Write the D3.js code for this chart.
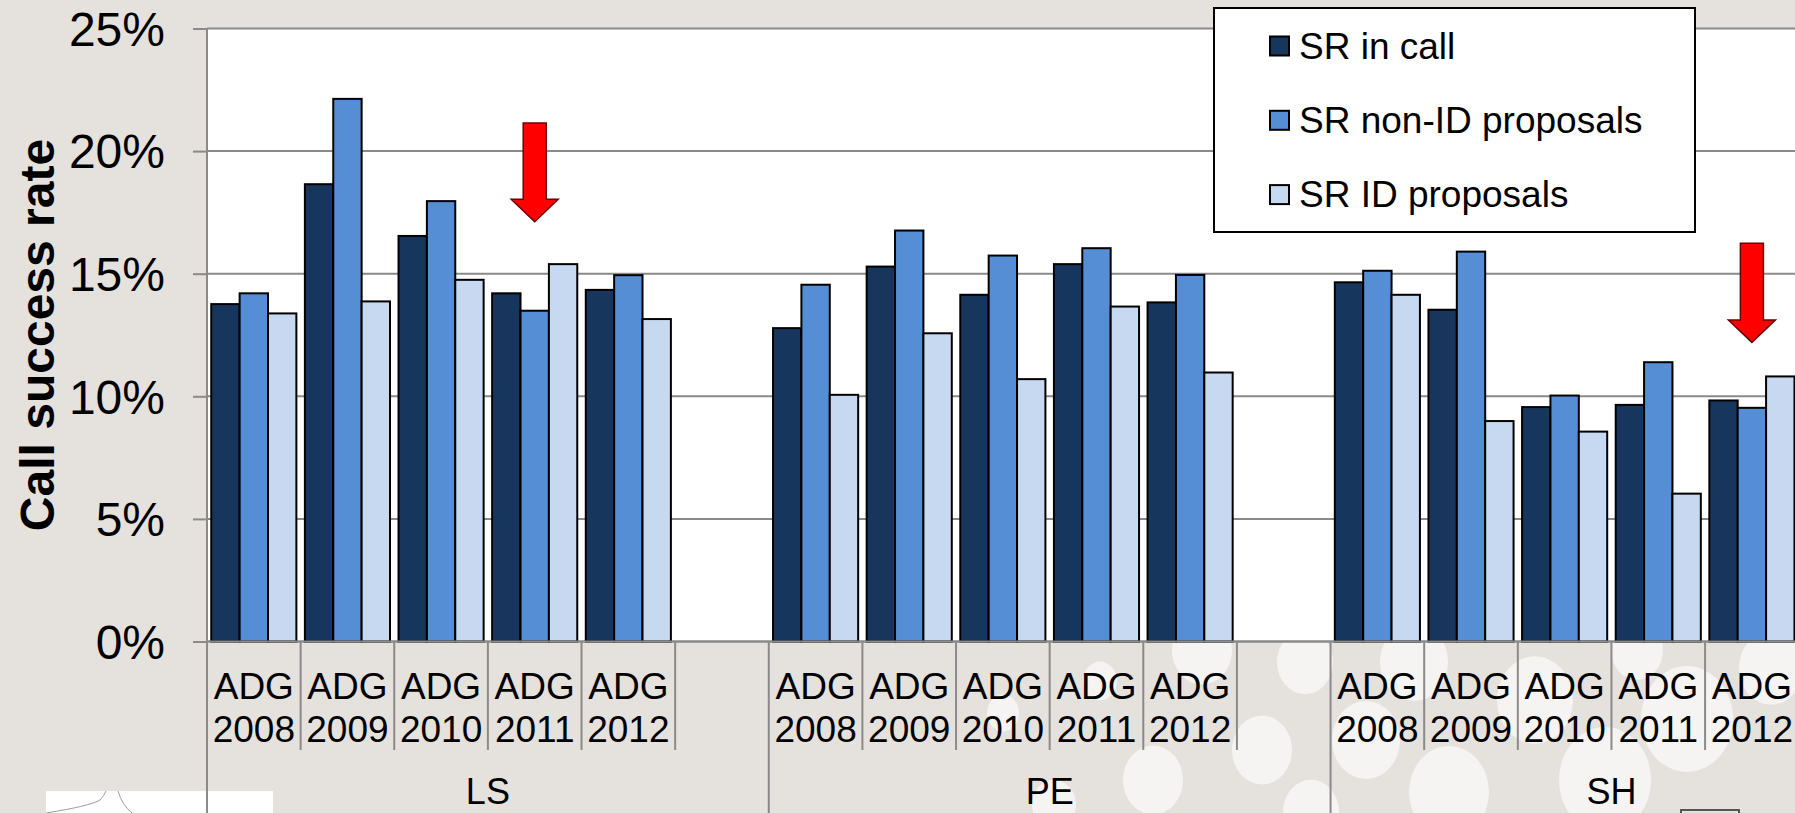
<!DOCTYPE html>
<html><head><meta charset="utf-8">
<script src="https://cdn.jsdelivr.net/npm/d3@7"></script>
<style>
html,body{margin:0;padding:0;background:#E5E1DD;overflow:hidden}
svg{display:block;font-family:"Liberation Sans",Arial,sans-serif}
</style></head><body>
<svg id="chart" width="1795" height="813"></svg>
<script>
// ---- data ----
const groups = ["LS", "PE", "SH"];
const years = ["ADG 2008", "ADG 2009", "ADG 2010", "ADG 2011", "ADG 2012"];
const series = ["SR in call", "SR non-ID proposals", "SR ID proposals"];
// values in %, order: LS 2008..2012, PE 2008..2012, SH 2008..2012
const srInCall = [13.76, 18.65, 16.54, 14.20, 14.34, 12.78, 15.29, 14.14, 15.39, 13.83, 14.65, 13.53, 9.56, 9.65, 9.83];
const srNonID  = [14.20, 22.13, 17.96, 13.49, 14.94, 14.55, 16.76, 15.74, 16.04, 14.95, 15.12, 15.90, 10.03, 11.39, 9.53];
const srID     = [13.38, 13.87, 14.75, 15.39, 13.15, 10.06, 12.57, 10.70, 13.66, 10.97, 14.14, 8.99, 8.56, 6.03, 10.81];
const yTicks = [0, 5, 10, 15, 20, 25];
const yTitle = "Call success rate";
const arrowGroups = ["LS", "SH"];
const arrowYears = ["ADG 2011", "ADG 2012"];
const arrowFrom = [21.15, 16.24];
const arrowTo = [17.12, 12.20];

// ---- styles ----
const colors = ["#17365D", "#558ED5", "#C6D9F1"];
const W = 1795, H = 813;
const svg = d3.select("#chart");

// background decoration
svg.append("rect").attr("width", W).attr("height", H).attr("fill", "#E5E1DD");
const decor = [[1100,681,17],[1003,713,16],[1153,780,30],[1262,750,30],[1202,650,30],[1305,662,28],[1054,805,22],
  [1366,740,34],[1449,792,40],[1414,662,34],[1535,700,38],[1605,780,46],[1687,719,46],[1771,668,32],[1311,812,28],[1637,650,26]];
svg.append("g").selectAll("ellipse").data(decor).join("ellipse")
  .attr("cx", d => d[0]).attr("cy", d => d[1]).attr("rx", d => d[2]).attr("ry", d => d[2] * 1.15)
  .attr("fill", "#F6F4F2");
// logo box
svg.append("rect").attr("x", 46).attr("y", 791).attr("width", 227).attr("height", 30).attr("fill", "#fff");
svg.append("path").attr("d", "M46,813 Q90,806 100,800 Q104,796 106,791").attr("fill", "none").attr("stroke", "#9a9aa8").attr("stroke-width", 1);
svg.append("path").attr("d", "M118,791 Q122,805 132,813").attr("fill", "none").attr("stroke", "#9a9aa8").attr("stroke-width", 1);
svg.append("rect").attr("x", 1681).attr("y", 810).attr("width", 58).attr("height", 20).attr("fill", "none").attr("stroke", "#555").attr("stroke-width", 2);

// ---- scales ----
const slots = [];
groups.forEach(g => { years.forEach(yv => slots.push(g + "|" + yv)); slots.push(g + "|"); });
const slotW = 93.63;
const x0 = 207, yTop = 28.5, yBase = 641.5;
const x = d3.scaleBand().domain(slots).range([x0, x0 + slots.length * slotW]).padding(0);
const xs = d3.scaleBand().domain(series).range([0, x.bandwidth()]).paddingInner(0).paddingOuter(0.15);
const y = d3.scaleLinear().domain([0, 25]).range([yBase, yTop]);

// plot area
svg.append("rect").attr("x", x0).attr("y", yTop).attr("width", W - x0 + 200).attr("height", yBase - yTop).attr("fill", "#fff");

// gridlines
svg.append("g").selectAll("line").data(yTicks).join("line")
  .attr("x1", x0).attr("x2", x.range()[1]).attr("y1", d => y(d)).attr("y2", d => y(d))
  .attr("stroke", "#8A8A8A").attr("stroke-width", 2);

// bars
const rows = [];
groups.forEach((g, gi) => years.forEach((yv, yi) => {
  const k = gi * years.length + yi;
  [srInCall[k], srNonID[k], srID[k]].forEach((v, si) => rows.push({slot: g + "|" + yv, s: series[si], si, v}));
}));
svg.append("g").selectAll("rect").data(rows).join("rect")
  .attr("x", d => x(d.slot) + xs(d.s)).attr("width", xs.bandwidth())
  .attr("y", d => y(d.v)).attr("height", d => y(0) - y(d.v))
  .attr("fill", d => colors[d.si]).attr("stroke", "#000").attr("stroke-width", 2);

// x axis line
svg.append("line").attr("x1", x0).attr("x2", x.range()[1]).attr("y1", yBase).attr("y2", yBase)
  .attr("stroke", "#8A8A8A").attr("stroke-width", 2);

// slot ticks
const tickG = svg.append("g");
slots.forEach((s, i) => {
  const xx = x(s);
  const isGroup = i % (years.length + 1) === 0;
  tickG.append("line").attr("x1", xx).attr("x2", xx).attr("y1", yBase)
    .attr("y2", isGroup ? H : 750).attr("stroke", "#8A8A8A").attr("stroke-width", 2);
});
// y axis line
svg.append("line").attr("x1", x0).attr("x2", x0).attr("y1", yTop).attr("y2", H)
  .attr("stroke", "#8A8A8A").attr("stroke-width", 2);

// y axis
const yAxis = d3.axisLeft(y).tickValues(yTicks).tickFormat(d => d + "%").tickSize(14).tickPadding(28);
const ya = svg.append("g").attr("transform", `translate(${x0},0)`).call(yAxis);
ya.select(".domain").remove();
ya.selectAll(".tick line").attr("stroke", "#8A8A8A").attr("stroke-width", 2);
ya.selectAll(".tick text").attr("font-size", 48).attr("fill", "#000")
  .attr("font-family", "'Liberation Sans',Arial,sans-serif").attr("dy", "0.35em");

// y title
svg.append("text").attr("transform", `translate(54,${(yTop + yBase) / 2}) rotate(-90)`)
  .attr("text-anchor", "middle").attr("font-size", 48).attr("font-weight", "bold").attr("fill", "#000")
  .text(yTitle);

// category labels
const catG = svg.append("g").attr("font-size", 37).attr("fill", "#000").attr("text-anchor", "middle");
slots.filter(s => !s.endsWith("|")).forEach(s => {
  const lab = s.split("|")[1].split(" ");
  const cx = x(s) + x.bandwidth() / 2;
  catG.append("text").attr("x", cx).attr("y", 698.5).text(lab[0]);
  catG.append("text").attr("x", cx).attr("y", 742).text(lab[1]);
});
// group labels
groups.forEach(g => {
  const a = x(g + "|" + years[0]);
  const b = x(g + "|") + x.bandwidth();
  svg.append("text").attr("x", (a + b) / 2).attr("y", 804).attr("text-anchor", "middle")
    .attr("font-size", 36).attr("fill", "#000").text(g);
});

// arrows
arrowGroups.forEach((g, i) => {
  const cx = x(g + "|" + arrowYears[i]) + x.bandwidth() / 2;
  const yt = y(arrowFrom[i]), yb = y(arrowTo[i]);
  const sw = 11.5, hw = 23.5, hl = 22.4;
  const p = [[cx - sw, yt], [cx + sw, yt], [cx + sw, yb - hl], [cx + hw, yb - hl], [cx, yb],
             [cx - hw, yb - hl], [cx - sw, yb - hl]];
  svg.append("path").attr("d", "M" + p.join("L") + "Z").attr("fill", "#FF0000")
    .attr("stroke", "#6B0000").attr("stroke-width", 1.5);
});

// legend
const lg = svg.append("g");
lg.append("rect").attr("x", 1214).attr("y", 8).attr("width", 481).attr("height", 224)
  .attr("fill", "#fff").attr("stroke", "#000").attr("stroke-width", 2);
series.forEach((s, i) => {
  const cy = 46 + i * 74.3;
  lg.append("rect").attr("x", 1270).attr("y", cy - 9.5).attr("width", 19).attr("height", 19)
    .attr("fill", colors[i]).attr("stroke", "#000").attr("stroke-width", 2);
  lg.append("text").attr("x", 1299).attr("y", cy + 12.5).attr("font-size", 37).attr("fill", "#000").text(s);
});
</script>
</body></html>
